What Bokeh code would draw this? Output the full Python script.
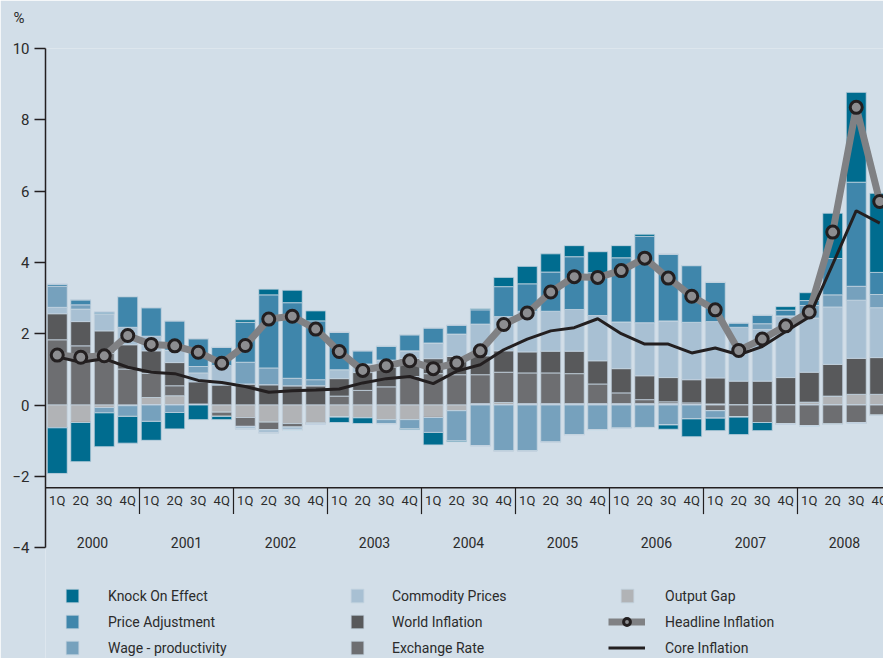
from bokeh.plotting import figure
from bokeh.models import Range1d, FixedTicker, ColumnDataSource, Span, Legend, LegendItem
from bokeh.core.properties import value
from bokeh.embed import file_html
from bokeh.resources import INLINE

years = ["2000", "2001", "2002", "2003", "2004", "2005", "2006", "2007", "2008"]
quarters = ["1Q", "2Q", "3Q", "4Q"]

knock_on = [-1.28, -1.10, -0.95, -0.75, -0.53, -0.46, -0.41, -0.09, 0.07, 0.16, 0.35, 0.28,
            -0.15, -0.16, 0.00, -0.03, -0.35, -0.03, 0.03, 0.26, 0.49, 0.51, 0.31, 0.59,
            0.34, 0.06, -0.12, -0.50, -0.35, -0.49, -0.23, 0.10, 0.22, 1.27, 2.52, 2.22]
price_adjustment = [0.06, 0.14, 0.05, 0.86, 0.80, 0.82, 0.78, 0.51, 1.12, 2.05, 2.12, 1.65,
                    1.05, 0.37, 0.39, 0.45, 0.42, 0.25, 0.40, 0.84, 0.77, 1.10, 1.48, 1.20,
                    1.80, 2.42, 1.87, 1.59, 1.10, 0.12, 0.24, 0.16, 0.14, 1.02, 2.92, 0.62]
wage_productivity = [0.59, 0.12, -0.15, -0.30, -0.46, -0.21, 0.18, 0.00, 0.61, 0.47, 0.21, 0.17,
                     0.00, 0.00, -0.11, -0.25, -0.42, -0.84, -1.14, -1.29, -1.29, -1.04, -0.83, -0.69,
                     -0.65, -0.63, -0.56, -0.39, -0.21, 0.00, 0.16, 0.00, 0.35, 0.34, 0.39, 0.37]
commodity_prices = [0.18, 0.35, 0.48, 0.49, 0.41, 0.35, 0.25, 0.55, -0.07, -0.09, -0.07, 0.00,
                    0.25, 0.24, 0.20, 0.22, 0.44, 0.63, 0.89, 0.96, 1.14, 1.12, 1.17, 1.27,
                    1.31, 1.49, 1.59, 1.61, 1.58, 1.51, 1.45, 1.73, 1.52, 1.61, 1.63, 1.40]
world_inflation = [0.73, 0.68, 0.63, 0.68, 0.63, 0.65, 0.62, 0.56, 0.59, 0.57, 0.54, 0.54,
                   0.49, 0.50, 0.55, 0.50, 0.42, 0.51, 0.53, 0.60, 0.59, 0.61, 0.63, 0.65,
                   0.68, 0.67, 0.68, 0.65, 0.73, 0.67, 0.67, 0.77, 0.84, 0.89, 1.01, 1.03]
exchange_rate = [1.83, 1.66, 1.45, 1.01, 0.68, 0.28, 0.03, -0.12, -0.25, -0.21, -0.10, -0.04,
                 0.25, 0.41, 0.51, 0.80, 0.88, 0.85, 0.81, 0.85, 0.86, 0.86, 0.84, 0.55,
                 0.30, 0.11, 0.05, 0.04, -0.16, -0.34, -0.49, -0.53, -0.58, -0.54, -0.50, -0.29]
output_gap = [-0.64, -0.49, -0.07, -0.02, 0.21, 0.26, 0.00, -0.20, -0.35, -0.48, -0.52, -0.49,
              -0.34, -0.36, -0.41, -0.41, -0.35, -0.16, 0.04, 0.07, 0.04, 0.04, 0.04, 0.04,
              0.04, 0.04, 0.04, 0.02, 0.03, 0.00, 0.00, 0.00, 0.08, 0.25, 0.30, 0.30]
headline = [1.40, 1.34, 1.38, 1.95, 1.70, 1.66, 1.48, 1.17, 1.67, 2.41, 2.49, 2.13,
            1.50, 0.97, 1.10, 1.24, 1.02, 1.18, 1.52, 2.26, 2.58, 3.17, 3.60, 3.58,
            3.77, 4.12, 3.56, 3.05, 2.67, 1.53, 1.85, 2.22, 2.61, 4.85, 8.35, 5.71]
core = [1.35, 1.20, 1.30, 1.06, 0.92, 0.88, 0.69, 0.63, 0.52, 0.36, 0.40, 0.42,
        0.45, 0.62, 0.74, 0.80, 0.60, 0.95, 1.13, 1.55, 1.85, 2.08, 2.17, 2.42,
        2.00, 1.71, 1.71, 1.46, 1.60, 1.41, 1.64, 2.06, 2.47, 3.95, 5.45, 5.10]

BG = "#d2dee8"
AX = "#231f20"
TXT = "#2b2b2b"
FONT = "Roboto"
EDGE = "#c4d3df"

names = ["Output Gap", "Exchange Rate", "World Inflation", "Commodity Prices",
         "Wage - productivity", "Price Adjustment", "Knock On Effect"]
vals = [output_gap, exchange_rate, world_inflation, commodity_prices,
        wage_productivity, price_adjustment, knock_on]
colors = ["#b1b3b6", "#6d6e71", "#58595b", "#a8c0d3", "#76a1bd", "#3f86ab", "#006c8f"]

n = len(headline)
xs = [i + 0.5 for i in range(n)]
data = {"x": xs, "headline": headline, "core": core}
pkeys, nkeys = [], []
for k, v in enumerate(vals):
    data["p%d" % k] = [max(a, 0.0) for a in v]
    data["n%d" % k] = [min(a, 0.0) for a in v]
    pkeys.append("p%d" % k)
    nkeys.append("n%d" % k)
src = ColumnDataSource(data)

p = figure(width=883, height=658, x_range=Range1d(0, 35.66), y_range=Range1d(-7.11, 10),
           output_backend="svg", toolbar_location=None, x_axis_location=None,
           min_border_left=45, min_border_top=48, min_border_bottom=0, min_border_right=0,
           background_fill_color=BG, border_fill_color=BG, outline_line_color=None,
           title="%\n ")
p.xgrid.visible = False
p.ygrid.visible = False
p.title.align = "left"
p.title.offset = -32
p.title.text_font = FONT
p.title.text_font_size = "15px"
p.title.text_font_style = "normal"
p.title.text_color = TXT
p.title.vertical_align = "bottom"
p.title.standoff = 8

pos_r = p.vbar_stack(pkeys, x="x", width=0.85, source=src, fill_color=colors,
                     line_color=EDGE, line_width=0.8)
neg_r = p.vbar_stack(nkeys, x="x", width=0.85, source=src, fill_color=colors,
                     line_color=EDGE, line_width=0.8)

head_l = p.line(x="x", y="headline", source=src, line_color="#808184", line_width=7)
core_r = p.line(x="x", y="core", source=src, line_color=AX, line_width=3)
head_s = p.scatter(x="x", y="headline", source=src, marker="circle", size=12,
                   fill_color="#8c8d90", line_color=AX, line_width=3)

# y axis
p.yaxis.bounds = (-4, 10)
p.yaxis.ticker = FixedTicker(ticks=list(range(-4, 11, 2)))
p.yaxis.major_label_text_font = FONT
p.yaxis.major_label_text_font_size = "15px"
p.yaxis.major_label_text_color = TXT
p.yaxis.axis_line_color = AX
p.yaxis.axis_line_width = 1.5
p.yaxis.major_tick_line_color = AX
p.yaxis.major_tick_line_width = 1.5
p.yaxis.major_tick_in = 0
p.yaxis.major_tick_out = 11
p.yaxis.minor_tick_line_color = None
p.yaxis.major_label_standoff = 5

# category axis drawn inside the frame
AXIS_Y = -2.32
p.add_layout(Span(location=AXIS_Y, dimension="width", line_color=AX, line_width=1.5))
qsrc = ColumnDataSource(dict(x=xs, y=[AXIS_Y] * n, t=[quarters[i % 4] for i in range(n)]))
p.text(x="x", y="y", text="t", source=qsrc, text_align="center", text_baseline="top",
       y_offset=5, text_font=value(FONT), text_font_size="13px", text_color=TXT)
sep_x = [4 * k for k in range(1, len(years))]
p.segment(x0=sep_x, y0=[AXIS_Y] * len(sep_x), x1=sep_x, y1=[-3.06] * len(sep_x),
          line_color=AX, line_width=1.2)
ysrc = ColumnDataSource(dict(x=[4 * k + 2 for k in range(len(years))],
                             y=[-3.87] * len(years), t=years))
p.text(x="x", y="y", text="t", source=ysrc, text_align="center", text_baseline="middle",
       text_font=value(FONT), text_font_size="14px", text_color=TXT)


def add_legend(items, vx, vy, gw, standoff):
    lg = Legend(items=items, location=(vx, vy), orientation="vertical",
                glyph_width=gw, glyph_height=17, label_height=17, spacing=9,
                padding=0, margin=0, label_standoff=standoff,
                label_text_font=FONT, label_text_font_size="14px", label_text_color=TXT,
                background_fill_alpha=0, border_line_color=None)
    p.add_layout(lg)


add_legend([LegendItem(label=names[6], renderers=[pos_r[6]]),
            LegendItem(label=names[5], renderers=[pos_r[5]]),
            LegendItem(label=names[4], renderers=[pos_r[4]])], 19, 2, 16, 28)
add_legend([LegendItem(label=names[3], renderers=[pos_r[3]]),
            LegendItem(label=names[2], renderers=[pos_r[2]]),
            LegendItem(label=names[1], renderers=[pos_r[1]])], 304, 2, 16, 27)
add_legend([LegendItem(label=names[0], renderers=[pos_r[0]])], 574, 54, 16, 30)
add_legend([LegendItem(label="Headline Inflation", renderers=[head_l, head_s]),
            LegendItem(label="Core Inflation", renderers=[core_r])], 563, 2, 37, 20)

open("out.html", "w").write(file_html(p, INLINE))
